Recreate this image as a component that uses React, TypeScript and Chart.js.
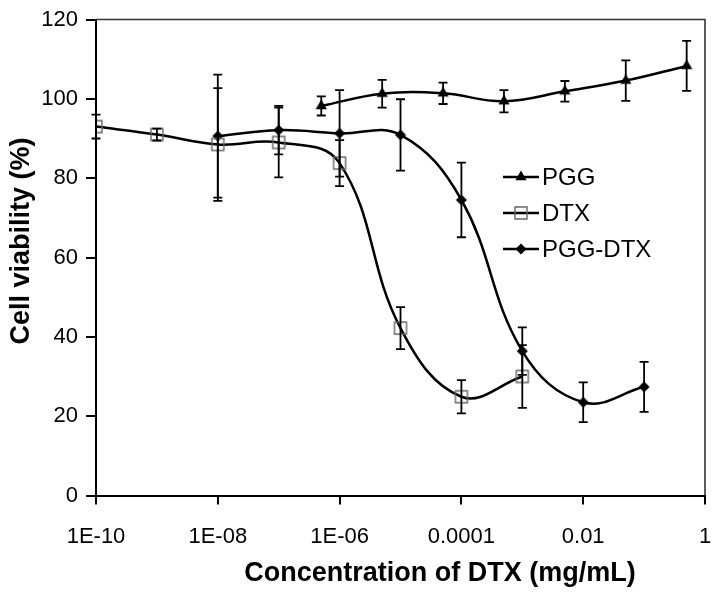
import React, { useEffect, useRef } from 'react';
import { Chart, registerables } from 'chart.js';

Chart.register(...registerables);

const FONT = '"Liberation Sans", Arial, Helvetica, sans-serif';

// ---- Data ----
const seriesNames = ['PGG', 'DTX', 'PGG-DTX'];

const pggConc = [5e-7, 5e-6, 5e-5, 5e-4, 5e-3, 5e-2, 5e-1];
const pggViability = [98.2, 101.3, 101.4, 99.4, 101.9, 104.6, 108.3];
const pggError = [2.4, 3.5, 2.7, 2.8, 2.6, 5.1, 6.3];

const dtxConc = [1e-10, 1e-9, 1e-8, 1e-7, 1e-6, 1e-5, 1e-4, 1e-3];
const dtxViability = [93.0, 91.0, 88.5, 89.0, 83.8, 42.2, 24.9, 30.0];
const dtxError = [3.0, 1.5, 14.2, 8.8, 5.8, 5.3, 4.2, 7.9];

const pggDtxConc = [1e-8, 1e-7, 1e-6, 1e-5, 1e-4, 1e-3, 1e-2, 1e-1];
const pggDtxViability = [90.6, 92.1, 91.3, 90.9, 74.5, 36.4, 23.5, 27.4];
const pggDtxError = [15.5, 6.1, 10.9, 9.0, 9.4, 6.0, 5.0, 6.3];

const xTickValues = [1e-10, 1e-8, 1e-6, 1e-4, 1e-2, 1];
const xTickLabels = ['1E-10', '1E-08', '1E-06', '0.0001', '0.01', '1'];
const yMin = 0;
const yMax = 120;
const yStep = 20;

const xTitle = 'Concentration of DTX (mg/mL)';
const yTitle = 'Cell viability (%)';

const errorSets = [pggError, dtxError, pggDtxError];

function toPoints(xs: number[], ys: number[]) {
  return xs.map((x, i) => ({ x, y: ys[i] }));
}

type MarkerKind = 'triangle' | 'square' | 'diamond';
const markerKinds: MarkerKind[] = ['triangle', 'square', 'diamond'];

function drawMarker(ctx: CanvasRenderingContext2D, kind: MarkerKind, x: number, y: number) {
  ctx.save();
  ctx.beginPath();
  if (kind === 'triangle') {
    const r = 6.5;
    for (let k = 0; k < 3; k++) {
      const a = (k * 2 * Math.PI) / 3;
      const px = x + Math.sin(a) * r;
      const py = y - Math.cos(a) * r;
      if (k === 0) ctx.moveTo(px, py);
      else ctx.lineTo(px, py);
    }
    ctx.closePath();
    ctx.fillStyle = '#000';
    ctx.fill();
  } else if (kind === 'diamond') {
    const r = 5.5;
    ctx.moveTo(x, y - r);
    ctx.lineTo(x + r, y);
    ctx.lineTo(x, y + r);
    ctx.lineTo(x - r, y);
    ctx.closePath();
    ctx.fillStyle = '#000';
    ctx.fill();
  } else {
    const s = 6;
    ctx.rect(x - s, y - s, 2 * s, 2 * s);
    ctx.strokeStyle = '#666';
    ctx.lineWidth = 1.4;
    ctx.stroke();
  }
  ctx.restore();
}

const errorBarPlugin = {
  id: 'errorBars',
  afterDatasetsDraw(chart: any) {
    const { ctx, scales } = chart;
    const xs = scales.x;
    const ys = scales.y;
    ctx.save();
    ctx.strokeStyle = '#000';
    ctx.lineWidth = 1.8;
    chart.data.datasets.forEach((ds: any, i: number) => {
      const errs = errorSets[i];
      ds.data.forEach((p: any, j: number) => {
        const px = xs.getPixelForValue(p.x);
        const top = ys.getPixelForValue(p.y + errs[j]);
        const bot = ys.getPixelForValue(p.y - errs[j]);
        ctx.beginPath();
        ctx.moveTo(px, top);
        ctx.lineTo(px, bot);
        ctx.moveTo(px - 4.5, top);
        ctx.lineTo(px + 4.5, top);
        ctx.moveTo(px - 4.5, bot);
        ctx.lineTo(px + 4.5, bot);
        ctx.stroke();
      });
    });
    ctx.restore();
  },
};

const framePlugin = {
  id: 'frame',
  beforeDatasetsDraw(chart: any) {
    const { ctx, chartArea } = chart;
    ctx.save();
    ctx.strokeStyle = '#333';
    ctx.lineWidth = 1.6;
    ctx.beginPath();
    ctx.moveTo(chartArea.left, chartArea.top);
    ctx.lineTo(chartArea.right, chartArea.top);
    ctx.lineTo(chartArea.right, chartArea.bottom);
    ctx.stroke();
    ctx.restore();
  },
};

const legendPlugin = {
  id: 'customLegend',
  afterDraw(chart: any) {
    const { ctx } = chart;
    const rowsY = [177, 213, 249];
    const lineX0 = 503;
    const lineX1 = 539;
    const markX = 521;
    const textX = 542;
    ctx.save();
    seriesNames.forEach((name, i) => {
      const yy = rowsY[i];
      ctx.strokeStyle = '#000';
      ctx.lineWidth = 2.5;
      ctx.beginPath();
      ctx.moveTo(lineX0, yy);
      ctx.lineTo(lineX1, yy);
      ctx.stroke();
      drawMarker(ctx, markerKinds[i], markX, yy);
      ctx.fillStyle = '#000';
      ctx.font = `24px ${FONT}`;
      ctx.textAlign = 'left';
      ctx.textBaseline = 'middle';
      ctx.fillText(name, textX, yy + 1);
    });
    ctx.restore();
  },
};

const titlesPlugin = {
  id: 'axisTitles',
  afterDraw(chart: any) {
    const { ctx } = chart;
    ctx.save();
    ctx.fillStyle = '#000';
    ctx.font = `bold 27px ${FONT}`;
    ctx.textAlign = 'center';
    ctx.textBaseline = 'middle';
    ctx.fillText(xTitle, 440, 574);
    ctx.translate(22, 241);
    ctx.rotate(-Math.PI / 2);
    ctx.fillText(yTitle, 0, 0);
    ctx.restore();
  },
};

function pointStyleCanvas(kind: MarkerKind): HTMLCanvasElement {
  const c = document.createElement('canvas');
  c.width = 16;
  c.height = 16;
  const cx = c.getContext('2d')!;
  drawMarker(cx, kind, 8, 8);
  return c;
}

export default function App() {
  const canvasRef = useRef<HTMLCanvasElement | null>(null);

  useEffect(() => {
    document.body.style.margin = '0';
    const canvas = canvasRef.current;
    if (!canvas) return;

    const datasets = [
      { label: seriesNames[0], data: toPoints(pggConc, pggViability), kind: 'triangle' as MarkerKind },
      { label: seriesNames[1], data: toPoints(dtxConc, dtxViability), kind: 'square' as MarkerKind },
      { label: seriesNames[2], data: toPoints(pggDtxConc, pggDtxViability), kind: 'diamond' as MarkerKind },
    ].map((d) => ({
      label: d.label,
      data: d.data,
      borderColor: '#000',
      borderWidth: 2.5,
      backgroundColor: '#000',
      tension: 0.4,
      fill: false,
      pointStyle: pointStyleCanvas(d.kind),
      pointRadius: 6,
      pointHoverRadius: 6,
    }));

    const chart = new Chart(canvas, {
      type: 'line',
      data: { datasets },
      options: {
        animation: false,
        responsive: false,
        devicePixelRatio: 1,
        layout: { padding: { top: 19.5, right: 11, left: 0, bottom: 0 } },
        plugins: {
          legend: { display: false },
          tooltip: { enabled: false },
          title: { display: false },
        },
        scales: {
          x: {
            type: 'logarithmic',
            min: 1e-10,
            max: 1,
            afterBuildTicks: (s: any) => {
              s.ticks = xTickValues.map((v) => ({ value: v }));
            },
            afterFit: (s: any) => {
              s.height = 102.5;
              s.paddingRight = 0;
              s.paddingLeft = 0;
            },
            ticks: {
              autoSkip: false,
              maxRotation: 0,
              minRotation: 0,
              padding: 19,
              color: '#000',
              font: { family: FONT, size: 22 },
              callback: (_v: any, index: number) => xTickLabels[index],
            },
            grid: {
              display: true,
              drawOnChartArea: false,
              drawTicks: true,
              tickLength: 9,
              color: '#000',
              lineWidth: 2,
            },
            border: { display: true, color: '#000', width: 2 },
          },
          y: {
            type: 'linear',
            min: yMin,
            max: yMax,
            afterFit: (s: any) => {
              s.width = 96;
              s.paddingTop = 0;
              s.paddingBottom = 0;
            },
            ticks: {
              stepSize: yStep,
              padding: 8,
              color: '#000',
              font: { family: FONT, size: 22 },
            },
            grid: {
              display: true,
              drawOnChartArea: false,
              drawTicks: true,
              tickLength: 10,
              color: '#000',
              lineWidth: 2,
            },
            border: { display: true, color: '#000', width: 2 },
          },
        },
      } as any,
      plugins: [framePlugin, errorBarPlugin, legendPlugin, titlesPlugin],
    });

    return () => {
      chart.destroy();
    };
  }, []);

  return (
    <div style={{ width: 716, height: 598, background: '#fff' }}>
      <canvas ref={canvasRef} width={716} height={598} style={{ display: 'block' }} />
    </div>
  );
}
